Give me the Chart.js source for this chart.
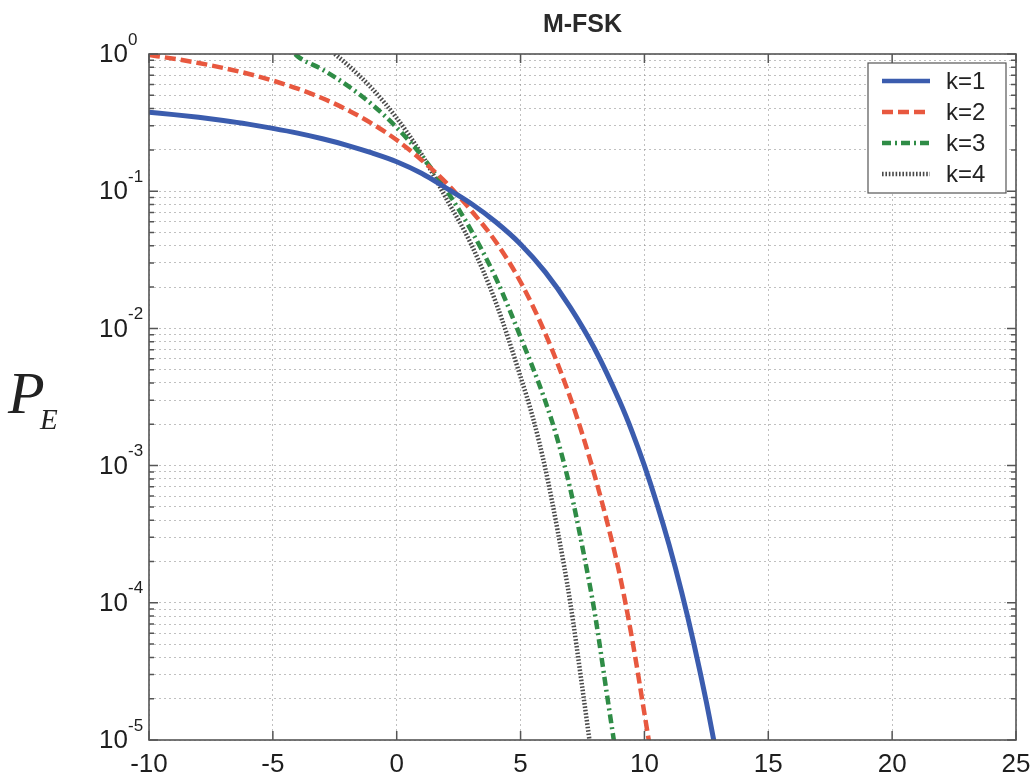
<!DOCTYPE html>
<html>
<head>
<meta charset="utf-8">
<script src="https://cdn.jsdelivr.net/npm/chart.js@4/dist/chart.umd.min.js"></script>
<style>
  html, body { margin: 0; padding: 0; background: #ffffff; }
  canvas { display: block; }
</style>
</head>
<body>
<canvas id="c" width="1032" height="774"></canvas>
<script>
// ---- Data (Eb/N0 in dB vs. P_E) ----
const chartTitle = 'M-FSK';
const seriesNames = ['k=1', 'k=2', 'k=3', 'k=4'];

const snrK1 = [-10, -9, -8, -7, -6, -5, -4, -3, -2, -1, 0, 1, 2, 3, 4, 5, 6, 7, 8, 9, 9.5, 10, 10.5, 11, 11.5, 12, 12.5, 13];
const peK1  = [0.376, 0.3615, 0.3453, 0.3275, 0.3082, 0.287, 0.265, 0.241, 0.216, 0.19, 0.164, 0.135, 0.1053, 0.0813, 0.0596, 0.0411, 0.0257, 0.0143, 0.00705, 0.00294, 0.00177, 0.001, 0.00053, 0.000263, 0.00012, 5.0e-5, 1.89e-5, 6.4e-6];

const snrK2 = [-10, -9, -8, -7, -6, -5, -4, -3, -2, -1, 0, 1, 2, 3, 4, 5, 6, 7, 7.5, 8, 8.5, 9, 9.5, 10, 10.5];
const peK2  = [0.982, 0.924, 0.860, 0.791, 0.718, 0.640, 0.559, 0.476, 0.392, 0.311, 0.236, 0.169, 0.115, 0.0724, 0.0428, 0.0218, 0.00916, 0.00315, 0.00168, 0.000835, 0.000384, 0.000161, 5.5e-5, 1.56e-5, 4.3e-6];

const snrK3 = [-4.1, -4, -3, -2, -1, 0, 1, 2, 3, 4, 5, 6, 6.5, 7, 7.5, 8, 8.5, 9];
const peK3  = [1.0, 0.961, 0.770, 0.591, 0.429, 0.291, 0.182, 0.102, 0.052, 0.0233, 0.00865, 0.00294, 0.00153, 0.000684, 0.000253, 8.3e-5, 2.07e-5, 5.2e-6];

const snrK4 = [-2.5, -2, -1, 0, 1, 2, 3, 4, 5, 5.5, 6, 6.5, 7, 7.5, 8];
const peK4  = [1.0, 0.840, 0.561, 0.341, 0.186, 0.0885, 0.0412, 0.0155, 0.00443, 0.00223, 0.00095, 0.000333, 0.000102, 2.35e-5, 5.1e-6];

const xTickValues = [-10, -5, 0, 5, 10, 15, 20, 25];
const yDecadeExponents = [0, -1, -2, -3, -4, -5];

// ---- Styles ----
const FONT = '"Liberation Sans", Arial, Helvetica, sans-serif';
const styles = [
  { color: '#3b5cae', dash: [], width: 5 },
  { color: '#e8583f', dash: [11, 5], width: 4.5 },
  { color: '#2f8c46', dash: [9, 4, 2, 4], width: 4.5 },
  { color: '#4a4a4a', dash: [1.6, 1.8], width: 4.5 }
];
const GRID = 'rgba(140,140,140,0.55)';
const AXIS = '#555555';

function pts(xs, ys) { return xs.map((x, i) => ({ x: x, y: ys[i] })); }
const seriesX = [snrK1, snrK2, snrK3, snrK4];
const seriesY = [peK1, peK2, peK3, peK4];

const datasets = seriesNames.map((name, i) => ({
  label: name,
  data: pts(seriesX[i], seriesY[i]),
  borderColor: styles[i].color,
  backgroundColor: styles[i].color,
  borderDash: styles[i].dash,
  borderWidth: styles[i].width,
  pointRadius: 0,
  fill: false,
  cubicInterpolationMode: 'monotone',
  clip: 0
}));

// all log ticks 1..9 x 10^e
const yTickValues = [];
for (let e = -5; e < 0; e++) {
  for (let m = 1; m <= 9; m++) yTickValues.push(m * Math.pow(10, e));
}
yTickValues.push(1);

const decorations = {
  id: 'decorations',
  afterDatasetsDraw(chart) {
    const ctx = chart.ctx;
    const a = chart.chartArea;
    const xs = chart.scales.x, ys = chart.scales.y;
    ctx.save();
    // tick marks (inside)
    ctx.strokeStyle = AXIS;
    ctx.lineWidth = 1.5;
    ctx.setLineDash([]);
    ctx.beginPath();
    xTickValues.forEach(v => {
      const px = xs.getPixelForValue(v);
      ctx.moveTo(px, a.bottom); ctx.lineTo(px, a.bottom - 9);
      ctx.moveTo(px, a.top); ctx.lineTo(px, a.top + 9);
    });
    yTickValues.forEach(v => {
      const py = ys.getPixelForValue(v);
      const major = Math.abs(Math.log10(v) - Math.round(Math.log10(v))) < 1e-9;
      const len = major ? 9 : 5;
      ctx.moveTo(a.left, py); ctx.lineTo(a.left + len, py);
      ctx.moveTo(a.right, py); ctx.lineTo(a.right - len, py);
    });
    ctx.stroke();
    // axes box
    ctx.lineWidth = 1.6;
    ctx.strokeRect(a.left, a.top, a.right - a.left, a.bottom - a.top);

    // y decade labels 10^e
    ctx.fillStyle = '#1e1e1e';
    yDecadeExponents.forEach(e => {
      const py = ys.getPixelForValue(Math.pow(10, e));
      ctx.font = '26px ' + FONT;
      ctx.textAlign = 'right';
      ctx.textBaseline = 'middle';
      ctx.fillText('10', a.left - 21, py + 1);
      ctx.font = '17px ' + FONT;
      ctx.textAlign = 'left';
      ctx.fillText(String(e), a.left - 21, py - 14);
    });

    // y axis label P_E
    ctx.fillStyle = '#222';
    ctx.textAlign = 'left';
    ctx.textBaseline = 'alphabetic';
    ctx.font = 'italic 60px "Liberation Serif", "Times New Roman", serif';
    ctx.fillText('P', 8, 413);
    ctx.font = 'italic 29px "Liberation Serif", "Times New Roman", serif';
    ctx.fillText('E', 40, 429);

    // legend box
    const lx = 868, ly = 63, lw = 138, lh = 130;
    ctx.fillStyle = '#ffffff';
    ctx.fillRect(lx, ly, lw, lh);
    ctx.strokeStyle = AXIS;
    ctx.lineWidth = 1.2;
    ctx.strokeRect(lx, ly, lw, lh);
    chart.data.datasets.forEach((ds, i) => {
      const cy = ly + 18 + i * 31;
      ctx.strokeStyle = ds.borderColor;
      ctx.lineWidth = 4.5;
      ctx.setLineDash(ds.borderDash);
      ctx.beginPath();
      ctx.moveTo(lx + 14, cy); ctx.lineTo(lx + 62, cy);
      ctx.stroke();
      ctx.setLineDash([]);
      ctx.fillStyle = '#222';
      ctx.font = '24px ' + FONT;
      ctx.textAlign = 'left';
      ctx.textBaseline = 'middle';
      ctx.fillText(ds.label, lx + 78, cy + 1);
    });
    ctx.restore();
  }
};

const whiteBg = {
  id: 'whiteBg',
  beforeDraw(chart) {
    const ctx = chart.ctx;
    ctx.save();
    ctx.fillStyle = '#ffffff';
    ctx.fillRect(0, 0, chart.width, chart.height);
    ctx.restore();
  }
};

new Chart(document.getElementById('c'), {
  type: 'line',
  data: { datasets: datasets },
  plugins: [whiteBg, decorations],
  options: {
    responsive: false,
    animation: false,
    devicePixelRatio: 1,
    layout: { padding: { left: 0, right: 16, top: 0, bottom: 0 } },
    plugins: {
      legend: { display: false },
      tooltip: { enabled: false },
      title: {
        display: true,
        fullSize: false,
        text: chartTitle,
        color: '#2a2a2a',
        font: { family: FONT, size: 25, weight: 'bold', lineHeight: 1.2 },
        padding: { top: 10, bottom: 14 }
      }
    },
    scales: {
      x: {
        type: 'linear',
        min: -10,
        max: 25,
        afterBuildTicks(scale) { scale.ticks = xTickValues.map(v => ({ value: v })); },
        ticks: {
          color: '#1e1e1e',
          font: { family: FONT, size: 26 },
          padding: 9,
          maxRotation: 0,
          autoSkip: false
        },
        grid: { color: GRID, lineWidth: 1, drawTicks: false },
        border: { display: false, dash: [2, 3] },
        afterFit(scale) { scale.height = 34; scale.paddingLeft = 0; scale.paddingRight = 0; }
      },
      y: {
        type: 'logarithmic',
        min: 1e-5,
        max: 1,
        afterBuildTicks(scale) { scale.ticks = yTickValues.map(v => ({ value: v })); },
        ticks: {
          autoSkip: false,
          callback: () => '',
          font: { size: 1 }
        },
        grid: { color: GRID, lineWidth: 1, drawTicks: false },
        border: { display: false, dash: [2, 3] },
        afterFit(scale) { scale.width = 149; scale.paddingTop = 0; scale.paddingBottom = 0; }
      }
    }
  }
});
</script>
</body>
</html>
